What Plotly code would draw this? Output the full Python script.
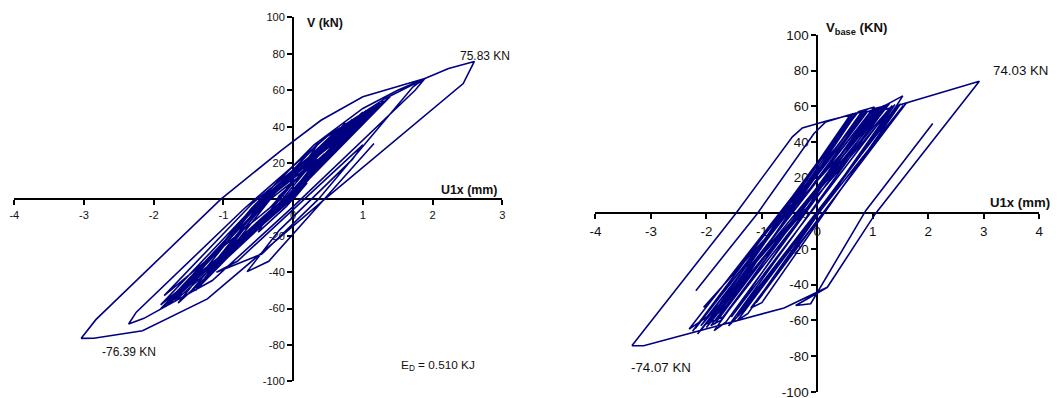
import plotly.graph_objects as go

# ---------------- data ----------------
# Left chart: displacement U1x (mm) and shear V (kN)
left_u = [0.0, 0.2, -0.1, -0.5, -0.2, 0.45, -0.07, -0.95, -0.33, 0.6, -0.02, -1.1, -0.38,
          0.35, -0.1, -1.2, -0.4,
          0.38, -0.28, -1.2, -0.45, 0.6, -0.3, -1.5, -0.5, 0.85,
          -0.33, -1.85, -0.58, 1.05, -0.25, -1.9, -0.52, 1.22, -0.05, -1.6, -0.3, 1.39, -0.08,
          -1.9, -0.55, 1.15, -0.12, -1.75,
          -0.45, 1.3, -0.1, -1.65, -0.5, 0.95, -0.2, -1.4, -0.45, 1.1, -0.15, -1.8, -0.5, 1.25,
          -0.1, -1.5, -0.35, 0.75, -0.2, -1.3, -0.4, 1.0, -0.15, -1.7,
          -0.6, 0.3, 1.0, 1.5, 1.89,
          1.75, 0.0, -1.16, -2.14, -2.36,
          -2.25, -0.7, 0.5, 1.3, 1.89, 2.23, 2.6,
          2.44, 0.45, -1.23, -2.16, -2.86, -3.04,
          -2.83, -1.04, -0.17, 0.40, 1.00, 1.89,
          1.72, 0.36, -0.45, -1.1, -0.8, 1.0, 0.85, -0.2, -0.66, -0.35, 1.16]
left_v = [0.0, 9.0, -4.0, -18.0, 2.0, 25.0, 0.0, -30.0, 0.0, 28.0, 0.0, -36.0, 0.0,
          22.0, 0.0, -38.0, 0.0,
          31.6, -4.2, -40.0, -1.5, 37.0, -5.0, -47.0, -1.5, 44.0,
          -4.5, -52.9, -2.0, 49.0, -5.6, -60.2, -3.8, 52.7, 1.4, -50.0, 3.2, 56.4, -0.8,
          -58.0, -3.5, 51.0, -2.0, -55.0,
          -1.0, 54.0, -1.5, -57.0, -2.0, 46.0, -3.0, -50.0, -1.0, 50.0, -2.0, -58.0, -2.5, 53.0,
          -2.0, -52.0, 0.0, 42.0, -2.0, -46.0, -1.0, 48.0, -3.0, -56.0,
          -5.0, 30.0, 50.0, 60.0, 66.5,
          60.0, -4.0, -44.6, -65.4, -68.5,
          -62.0, -5.0, 35.0, 55.0, 66.5, 72.0, 75.83,
          63.7, 0.0, -54.7, -72.2, -76.3, -76.39,
          -66.1, 0.0, 27.0, 43.5, 56.4, 66.5,
          61.9, 0.0, -30.0, -40.0, -34.0, 30.0, 22.0, -17.0, -39.7, -34.0, 30.7]

# Right chart: displacement U1x (mm) and base shear V_base (KN)
right_u = [-2.19, -1.08, -0.06, 0.15, 0.55, 0.9,
           -1.99, -2.31, 0.74, 1.03, -2.06, -2.16, 0.96, 1.30, -1.74, -1.92,
           1.10, 1.20, -1.65, -1.86, 0.95, 1.54, 1.42, -1.35, -1.6, 1.2, 1.35,
           -1.25, -1.44, 1.45, 1.66, 2.92,
           1.05, 0.18, -0.6, -3.13, -3.34,
           -1.47, -0.45, -0.27, 0.18, 0.55, 0.7,
           -1.85, 1.05, -1.55, 1.35, -2.1, 0.85, -2.2, 0.65, -1.9, 1.2,
           -2.05, -1.95, 0.85, 1.1, -1.7, -2.0, 0.6, 0.8, -1.75, -1.95, 1.0, 1.25,
           -2.0, 0.9, -2.25, 0.7, -1.95, 1.4, -1.1, 1.55,
           -1.3, -1.45, 1.5, -1.0, -1.2, 1.6, 1.66, 2.92,
           1.05, 0.18, -0.39, -0.12, 0.875, 2.08]
right_v = [-43.3, 0.0, 44.8, 51.3, 55.0, 57.5,
           -58.0, -64.8, 57.0, 59.7, -64.0, -67.6, 57.0, 61.6, -60.0, -62.9,
           58.0, 60.5, -61.0, -65.7, 56.0, 65.9, 60.0, -55.0, -63.0, 58.0, 59.5,
           -56.0, -60.0, 60.5, 62.5, 74.03,
           0.0, -41.4, -53.0, -74.2, -74.07,
           0.0, 42.9, 47.9, 51.9, 55.0, 56.0,
           -62.0, 58.5, -58.0, 60.5, -63.0, 57.5, -64.5, 56.0, -57.0, 60.0,
           -52.6, -50.0, 56.5, 59.0, -58.0, -62.0, 55.5, 57.0, -55.0, -60.0, 58.5, 60.5,
           -64.0, 57.0, -66.0, 56.5, -61.0, 61.0, -50.0, 60.5,
           -52.0, -57.0, 61.5, -50.0, -53.0, 61.8, 62.5, 74.03,
           0.0, -41.4, -51.6, -50.6, 1.7, 50.4]

left_xticks = [-4, -3, -2, -1, 0, 1, 2, 3]
right_xticks = [-4, -3, -2, -1, 0, 1, 2, 3, 4]
yticks = [-100, -80, -60, -40, -20, 0, 20, 40, 60, 80, 100]

left_peaks = [(2.6, 75.83, "75.83 KN"), (-3.04, -76.39, "-76.39 KN")]
right_peaks = [(2.92, 74.03, "74.03 KN"), (-3.34, -74.07, "-74.07 KN")]

# ---------------- figure ----------------
# The page is shown with a small offset and a slight shrink; these constants map
# wanted screen pixels onto figure pixels.
AX, SX = 5.7, 0.9887
AY, SY = 7.05, 0.961
W, H = 1062, 408
FONT = "Liberation Sans, Arial, sans-serif"
LINE = "#000080"
TXT = "#111111"

fig = go.Figure()
fig.add_trace(go.Scatter(x=left_u, y=left_v, mode="lines",
                         line=dict(color=LINE, width=1.6), xaxis="x", yaxis="y",
                         showlegend=False, hoverinfo="skip"))
fig.add_trace(go.Scatter(x=right_u, y=right_v, mode="lines",
                         line=dict(color=LINE, width=1.6), xaxis="x2", yaxis="y2",
                         showlegend=False, hoverinfo="skip"))


def axis(rng, dom, pos, ticks, size):
    return dict(range=rng, domain=dom, anchor="free", position=pos,
                showline=True, linecolor="black", linewidth=2,
                ticks="outside", ticklen=5, tickwidth=1.5, tickcolor="black",
                tickvals=ticks, ticktext=[str(t) for t in ticks],
                showgrid=False, zeroline=False, layer="below traces",
                tickfont=dict(family=FONT, size=size, color=TXT), fixedrange=True)


def px(v):
    return min(1.0, max(0.0, (v - AX) / SX / W))


def py(v):
    return min(1.0, max(0.0, 1 - (v - AY) / SY / H))


# screen-pixel geometry of plot areas (as seen in the reference)
L_x0, L_x1, L_y0, L_y1 = 14, 501, 17.5, 380.5      # left: x -4..3, y 100..-100
R_x0, R_x1, R_y0, R_y1 = 594, 1037, 35, 391        # right: x -4..4, y 100..-100

L_orig_x = L_x0 + (L_x1 - L_x0) * 4 / 7
L_orig_y = (L_y0 + L_y1) / 2
R_orig_x = (R_x0 + R_x1) / 2
R_orig_y = (R_y0 + R_y1) / 2

fig.update_layout(
    width=W, height=H, autosize=False, margin=dict(l=0, r=0, t=0, b=0, pad=0),
    paper_bgcolor="white", plot_bgcolor="white",
    font=dict(family=FONT, color=TXT),
    xaxis=axis([-4, 3], [px(L_x0), px(L_x1)], py(L_orig_y), left_xticks, 11.1),
    yaxis=axis([-100, 100], [py(L_y1), py(L_y0)], px(L_orig_x), yticks, 11.1),
    xaxis2=axis([-4, 4], [px(R_x0), px(R_x1)], py(R_orig_y), right_xticks, 13.4),
    yaxis2=axis([-100, 100], [py(R_y1), py(R_y0)], px(R_orig_x), yticks, 13.4),
)


def note(x, y, ref, text, size, xa, xs, ys):
    return dict(x=x, y=y, xref="x" + ref, yref="y" + ref, text=text, showarrow=False,
                xanchor=xa, yanchor="middle", xshift=xs, yshift=ys,
                font=dict(family=FONT, size=size, color=TXT))


ann = [
    note(0, 100, "", "<b>V (kN)</b>", 12.4, "left", 12, -6),
    note(3, 0, "", "<b>U1x (mm)</b>", 12.4, "right", -3, 9),
    note(left_peaks[0][0], left_peaks[0][1], "", left_peaks[0][2], 12, "center", 11, 5),
    note(left_peaks[1][0], left_peaks[1][1], "", left_peaks[1][2], 12, "center", 48, -14),
    note(2.0, -90, "", "E<sub>D</sub> = 0.510 KJ", 11.8, "center", 5, -2),
    note(0, 100, "2", "<b>V<sub>base</sub> (KN)</b>", 13.2, "left", 7, 7),
    note(4, 0, "2", "<b>U1x (mm)</b>", 13.2, "right", 13, 11),
    note(right_peaks[0][0], right_peaks[0][1], "2", right_peaks[0][2], 13.3, "center", 41, 11),
    note(right_peaks[1][0], right_peaks[1][1], "2", right_peaks[1][2], 13.3, "center", 29, -22),
]
fig.update_layout(annotations=ann)

fig.write_html("out.html", config={"displayModeBar": False})
